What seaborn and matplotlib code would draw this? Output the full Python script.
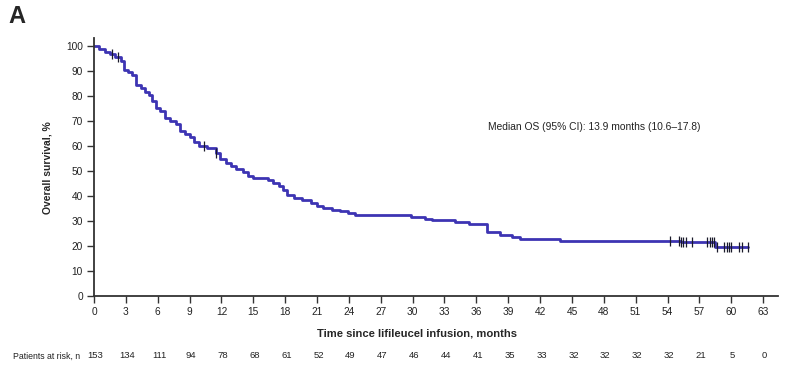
import numpy as np
import pandas as pd
import matplotlib
matplotlib.use('Agg')
import matplotlib.pyplot as plt
import seaborn as sns

# Kaplan-Meier step points (months, % alive)
km_time = [0, 0.5, 1.0, 1.5, 2.0, 2.5, 2.8, 3.2, 3.6, 4.0, 4.4, 4.8, 5.2, 5.5, 5.8,
           6.2, 6.7, 7.2, 7.7, 8.1, 8.6, 9.0, 9.4, 9.9, 10.6, 11.5, 11.9, 12.4, 12.9,
           13.4, 14.0, 14.5, 15.0, 16.4, 16.9, 17.4, 17.8, 18.2, 18.8, 19.6, 20.4,
           21.0, 21.6, 22.4, 23.2, 23.9, 24.6, 29.8, 31.2, 31.8, 34.0, 35.3, 37.0,
           38.2, 39.4, 40.1, 43.9, 55.3, 58.5, 61.6]
km_surv = [100, 98.7, 97.4, 96.7, 95.4, 94.1, 90.2, 89.5, 88.2, 84.3, 83.0, 81.7, 80.4,
           77.8, 75.2, 73.9, 71.2, 69.9, 68.6, 66.0, 64.7, 63.4, 61.4, 60.1, 59.3, 57.3,
           54.6, 53.3, 52.0, 50.7, 49.4, 48.0, 47.0, 46.4, 45.1, 43.8, 42.5, 40.5, 39.2,
           38.5, 37.2, 35.9, 35.2, 34.5, 33.8, 33.1, 32.4, 31.7, 30.9, 30.2, 29.4, 28.7,
           25.7, 24.5, 23.6, 22.8, 22.1, 21.4, 19.5, 19.5]

# censored observations (months)
censor_time = [1.7, 2.3, 10.4, 11.5, 54.2, 55.1, 55.3, 55.5, 55.7, 56.3, 57.7, 58.0,
               58.2, 58.4, 58.7, 59.3, 59.6, 59.8, 60.0, 60.7, 61.0, 61.6]

risk_months = list(range(0, 64, 3))
at_risk = [153, 134, 111, 94, 78, 68, 61, 52, 49, 47, 46, 44, 41, 35, 33, 32, 32, 32, 32, 21, 5, 0]

median_text = 'Median OS (95% CI): 13.9 months (10.6\u201317.8)'

df = pd.DataFrame({'time': km_time, 'surv': km_surv})
ct = np.array(censor_time)
idx = np.searchsorted(np.array(km_time), ct, side='right') - 1
cens = pd.DataFrame({'time': ct, 'surv': np.array(km_surv)[idx]})

sns.set_style('ticks')
plt.rcParams['font.family'] = ['Liberation Sans', 'DejaVu Sans']

fig = plt.figure(figsize=(8, 3.68), dpi=100)
ax = fig.add_axes([0.1175, 0.1957, 0.855, 0.6997])

line_color = '#3d34b3'
sns.lineplot(data=df, x='time', y='surv', ax=ax, color=line_color, linewidth=2.0,
             drawstyle='steps-post', sort=True, estimator=None)
sns.scatterplot(data=cens, x='time', y='surv', ax=ax, marker='|', s=60,
                color='#1a1a2a', linewidth=0.9, zorder=3)

ax.set_xlim(0, 64.4)
ax.set_ylim(0, 103)
ax.set_xticks(risk_months)
ax.set_yticks(range(0, 101, 10))
ax.tick_params(axis='both', labelsize=7.3, length=5, width=1, color='#333333',
               labelcolor='#222222', pad=3)
for s in ['top', 'right']:
    ax.spines[s].set_visible(False)
for s in ['left', 'bottom']:
    ax.spines[s].set_color('#333333')
    ax.spines[s].set_linewidth(1.3)

ax.set_ylabel('Overall survival, %', fontsize=7.5, fontweight='bold', labelpad=10)
ax.set_xlabel('Time since lifileucel infusion, months', fontsize=8.1, fontweight='bold')
ax.xaxis.set_label_coords(0.472, -0.125)

ax.text(37.1, 67.6, median_text, fontsize=7.4, color='#222222', va='center', ha='left')

# risk table below the axis
for m, n in zip(risk_months, at_risk):
    ax.annotate(str(n), xy=(m, 0), xycoords=('data', 'axes fraction'),
                xytext=(1.5, -60), textcoords='offset pixels', ha='center', va='center',
                fontsize=6.8, color='#222222')
fig.text(0.0165, 0.0326, 'Patients at risk, n', fontsize=6.3, color='#222222', va='center')

fig.text(0.01, 0.955, 'A', fontsize=17, fontweight='bold', va='center')

plt.savefig('out.png', dpi=100)
